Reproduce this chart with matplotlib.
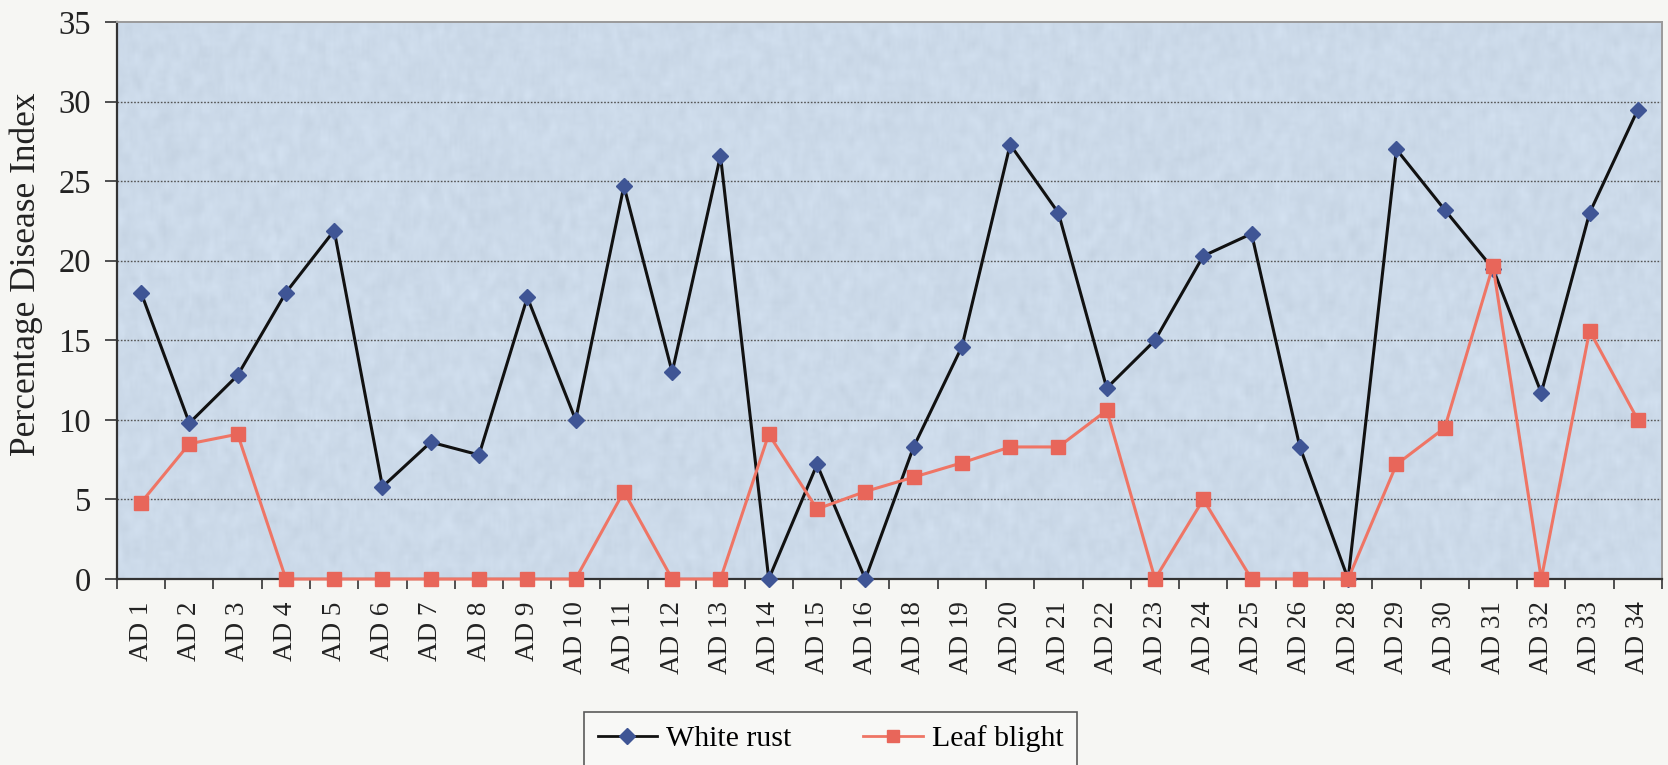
import numpy as np
import matplotlib
matplotlib.use("Agg")
import matplotlib.pyplot as plt
from matplotlib.ticker import FixedLocator, NullFormatter
from matplotlib.lines import Line2D

plt.rcParams['font.family'] = ['Liberation Serif', 'DejaVu Serif']

categories = ["AD 1", "AD 2", "AD 3", "AD 4", "AD 5", "AD 6", "AD 7", "AD 8",
              "AD 9", "AD 10", "AD 11", "AD 12", "AD 13", "AD 14", "AD 15",
              "AD 16", "AD 18", "AD 19", "AD 20", "AD 21", "AD 22", "AD 23",
              "AD 24", "AD 25", "AD 26", "AD 28", "AD 29", "AD 30", "AD 31",
              "AD 32", "AD 33", "AD 34"]

white_rust = [18.0, 9.8, 12.8, 18.0, 21.9, 5.8, 8.6, 7.8, 17.7, 10.0, 24.7,
              13.0, 26.6, 0.0, 7.2, 0.0, 8.3, 14.6, 27.3, 23.0, 12.0, 15.0,
              20.3, 21.7, 8.3, 0.0, 27.0, 23.2, 19.5, 11.7, 23.0, 29.5]

leaf_blight = [4.8, 8.5, 9.1, 0.0, 0.0, 0.0, 0.0, 0.0, 0.0, 0.0, 5.5, 0.0,
               0.0, 9.1, 4.4, 5.5, 6.4, 7.3, 8.3, 8.3, 10.6, 0.0, 5.0, 0.0,
               0.0, 0.0, 7.2, 9.5, 19.7, 0.0, 15.6, 10.0]

y_ticks = [0, 5, 10, 15, 20, 25, 30, 35]

fig = plt.figure(figsize=(16.68, 7.65), dpi=100, facecolor="#f6f6f3")
ax = fig.add_axes([0.0701, 0.2431, 0.9263, 0.7281])

n = len(categories)
x = np.arange(n)

# grainy light-blue plot area
rng = np.random.default_rng(7)
grain = rng.normal(0, 1, (140, 600))
k = np.ones(3) / 3
grain = np.apply_along_axis(lambda r: np.convolve(r, k, mode="same"), 1, grain)
grain = np.apply_along_axis(lambda c: np.convolve(c, k, mode="same"), 0, grain)
base = np.array([0.800, 0.855, 0.915])
tex = base[None, None, :] + 0.024 * grain[:, :, None]
tex = np.clip(tex, 0, 1)
ax.imshow(tex, extent=(-0.5, n - 0.5, 0, 35), aspect="auto", zorder=0,
          interpolation="bilinear")

ax.set_xlim(-0.5, n - 0.5)
ax.set_ylim(0, 35)

for yv in y_ticks[1:-1]:
    ax.axhline(yv, color="#555555", lw=1.0, ls=(0, (1.2, 1.2)), zorder=1)

# second series is drawn over the first
ax.plot(x, white_rust, color="#111111", lw=2.2, marker="D", ms=8.5,
        mfc="#3f5595", mec="#3f5595", zorder=3.5, label="White rust",
        clip_on=False)
ax.plot(x, leaf_blight, color="#ef7565", lw=2.2, marker="s", ms=10,
        mfc="#e8665a", mec="#e8665a", zorder=4, label="Leaf blight",
        clip_on=False)

ax.set_yticks(y_ticks)
ax.set_yticklabels([str(v) for v in y_ticks], fontsize=23.5, color="#222222")
ax.set_xticks(x)
ax.set_xticklabels(categories, rotation=90, fontsize=19.5, color="#222222")
ax.xaxis.set_minor_locator(FixedLocator(np.arange(-0.5, n, 1.0)))
ax.xaxis.set_minor_formatter(NullFormatter())
ax.tick_params(axis="x", which="major", length=0, pad=16)
ax.tick_params(axis="x", which="minor", length=7, width=1.2, color="#333333",
               direction="out")
ax.tick_params(axis="y", length=8.5, width=1.2, color="#333333", pad=10)

for side in ["left", "bottom"]:
    ax.spines[side].set_color("#333333")
    ax.spines[side].set_linewidth(1.6)
for side in ["top", "right"]:
    ax.spines[side].set_color("#9a9a9a")
    ax.spines[side].set_linewidth(1.4)

ax.set_ylabel("Percentage Disease Index", fontsize=25.5, color="#222222")
ax.yaxis.set_label_coords(-0.048, 0.548)

handles = [
    Line2D([], [], color="#111111", lw=2.0, marker="D", ms=8,
           mfc="#3f5595", mec="#3f5595"),
    Line2D([], [], color="#ef7565", lw=2.0, marker="s", ms=9,
           mfc="#e8665a", mec="#e8665a"),
]
leg = fig.legend(handles, ["White rust", "Leaf blight"], loc="upper center",
                 bbox_to_anchor=(0.498, 1 - 712 / 765), ncol=2, fontsize=21.5,
                 frameon=True, fancybox=False, edgecolor="#333333",
                 handlelength=2.0, handletextpad=0.3, columnspacing=2.4,
                 borderpad=0.45, borderaxespad=0)
leg.get_frame().set_linewidth(1.2)
leg.get_frame().set_facecolor("#f9f9f7")

fig.savefig("out.png", dpi=100, facecolor=fig.get_facecolor())
